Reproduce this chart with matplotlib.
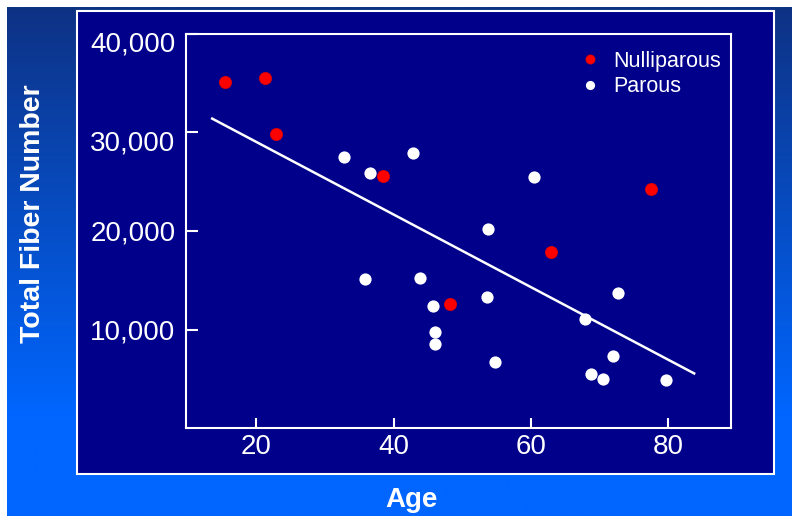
import numpy as np
import matplotlib
matplotlib.use('Agg')
import matplotlib.pyplot as plt
from matplotlib.patches import Rectangle
import matplotlib.transforms as mtransforms

plt.rcParams['font.family'] = ['Liberation Sans', 'DejaVu Sans']

# ---- data ----
nulli_age = [15.5, 21.3, 22.9, 38.4, 48.2, 62.9, 77.5]
nulli_fib = [35150, 35530, 29850, 25580, 12560, 17870, 24290]

parous_age = [32.8, 36.6, 42.9, 60.4, 53.8, 35.8, 43.9, 45.8, 46.0, 46.0,
              72.6, 53.6, 67.9, 71.9, 54.8, 68.7, 70.5, 79.7]
parous_fib = [27480, 25860, 27950, 25450, 20200, 15130, 15260, 12420, 9720, 8530,
              13740, 13270, 11040, 7340, 6730, 5450, 4970, 4840]

fit_age = [13.45, 83.9]
fit_fib = [31470, 5480]

x_ticks = [20, 40, 60, 80]
x_ticklabels = ['20', '40', '60', '80']
y_ticks = [10000, 20000, 30000, 40000]
y_ticklabels = ['10,000', '20,000', '30,000', '40,000']

series_labels = ['Nulliparous', 'Parous']
x_label = 'Age'
y_label = 'Total Fiber Number'

# ---- layout helpers (pixel -> figure fraction) ----
W, H = 800, 525
def fx(px): return px / W
def fy(py): return 1 - py / H

fig = plt.figure(figsize=(8, 5.25), dpi=100)
fig.patch.set_facecolor('white')

# gradient background
bg = fig.add_axes([fx(7), fy(516), fx(792) - fx(7), fy(7) - fy(516)], zorder=-3)
t = np.clip(np.linspace(0, 1, 400) / 0.8, 0, 1)
top = np.array([14, 50, 132]) / 255.0
bot = np.array([0, 102, 255]) / 255.0
grad = top[None, :] * (1 - t[:, None]) + bot[None, :] * t[:, None]
bg.imshow(grad[:, None, :], aspect='auto', extent=[0, 1, 0, 1], interpolation='bilinear')
bg.axis('off')

# inner navy box with white border
box = Rectangle((fx(77), fy(474)), fx(774) - fx(77), fy(11) - fy(474),
                transform=fig.transFigure, facecolor='#00008B', edgecolor='white',
                lw=1.5, zorder=-2)
fig.patches.append(box)

# main axes
ax = fig.add_axes([fx(186), fy(428), fx(731) - fx(186), fy(34) - fy(428)], zorder=0)
ax.set_facecolor('none')
ax.set_xlim(9.8, 89.1)
ax.set_ylim(0, 40000)

ax.plot(fit_age, fit_fib, color='white', lw=1.8, solid_capstyle='butt', zorder=2)
ax.plot(nulli_age, nulli_fib, 'o', ms=8.8, color='#FF0000', mec='#E00000', mew=0.5,
        label=series_labels[0], zorder=3)
ax.plot(parous_age, parous_fib, 'o', ms=8.8, color='white', mec='white', mew=0,
        label=series_labels[1], zorder=3)

for s in ax.spines.values():
    s.set_color('white')
    s.set_linewidth(1.5)

ax.set_xticks(x_ticks)
ax.set_xticklabels(x_ticklabels)
ax.set_yticks(y_ticks)
ax.set_yticklabels(y_ticklabels)
ax.tick_params(axis='y', direction='in', length=8.6, width=1.5, color='white',
               labelcolor='white', labelsize=20, pad=7.5)
ax.tick_params(axis='x', direction='in', length=7, width=1.5, color='white',
               labelcolor='white', labelsize=20, pad=4)

# the upper two y labels sit a little below their ticks in the reference
for lbl, val in zip(ax.get_yticklabels(), y_ticks):
    if val >= 30000:
        lbl.set_transform(lbl.get_transform() +
                          mtransforms.ScaledTranslation(0, -8 / 100, fig.dpi_scale_trans))

leg = ax.legend(loc='upper left', bbox_to_anchor=(fx(584), fy(51)),
                bbox_transform=fig.transFigure, frameon=False, fontsize=15.5,
                handlelength=0.6, handletextpad=0.75, labelspacing=0.2,
                borderpad=0, borderaxespad=0, markerscale=0.75)
for txt in leg.get_texts():
    txt.set_color('white')

fig.text(fx(412), fy(507), x_label, ha='center', va='baseline', color='white',
         fontsize=20, fontweight='bold')
fig.text(fx(33), fy(214), y_label, ha='center', va='center', rotation=90,
         color='white', fontsize=20.5, fontweight='bold')

fig.savefig('out.png', dpi=100, facecolor=fig.get_facecolor())
